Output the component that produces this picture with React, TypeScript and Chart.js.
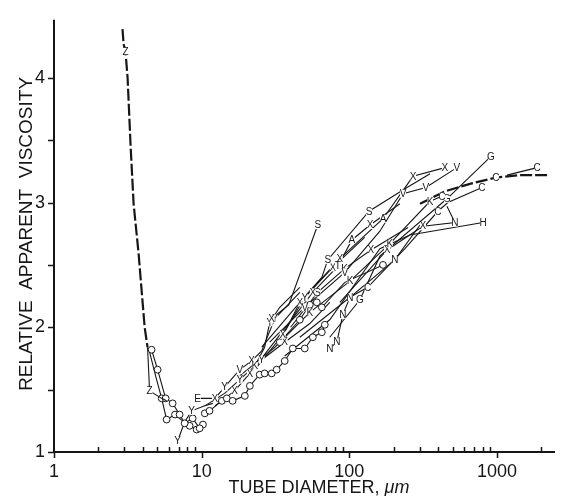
import React, { useEffect, useRef } from "react";
import { Chart, registerables } from "chart.js";
Chart.register(...registerables);

// ---- axes ----
const xTickValues = [1, 10, 100, 1000];
const xTickLabels = ["1", "10", "100", "1000"];
const yTickValues = [1, 2, 3, 4];
const yTickLabels = ["1", "2", "3", "4"];
const yTickMarks = [1, 1.5, 2, 2.5, 3, 3.5, 4];
const xMinorMarks = [2, 3, 4, 5, 6, 7, 8, 9, 20, 30, 40, 50, 60, 70, 80, 90, 200, 300, 400, 500, 600, 700, 800, 900, 2000];
const xTitleMain = "TUBE DIAMETER, ";
const xTitleUnit = "μm";
const yTitle = "RELATIVE  APPARENT  VISCOSITY";

// ---- series (x = tube diameter µm, y = relative apparent viscosity, m = marker per point) ----
const zUpperX = [2.91, 2.96, 3.05, 3.15, 3.30, 3.46, 3.74, 4.11, 4.30];
const zUpperY = [4.39, 4.27, 4.21, 4.00, 3.46, 2.99, 2.59, 2.00, 1.84];
const zUpperM = "..Z......";

const zLowerX = [4.30, 4.44, 5.36, 5.79];
const zLowerY = [1.84, 1.49, 1.43, 1.41];
const zLowerM = ".Z..";

const circAX = [4.58, 5.03, 5.70, 6.36, 7.09, 7.67, 8.69, 9.69];
const circAY = [1.82, 1.66, 1.43, 1.39, 1.30, 1.23, 1.27, 1.19];
const circAM = "oooooooo";

const circBX = [4.44, 4.90, 5.36, 5.79, 6.60, 7.43, 8.29, 9.25, 10.2];
const circBY = [1.80, 1.60, 1.43, 1.26, 1.30, 1.25, 1.21, 1.18, 1.22];
const circBM = "..ooo.ooo";

const yLowX = [6.88, 7.67, 8.55, 10.5, 11.9];
const yLowY = [1.09, 1.24, 1.33, 1.37, 1.39];
const yLowM = "Y.Y..";

const eLineX = [9.40, 12.3, 14.3, 18.1, 21.8, 25.5, 31.3, 46.2];
const eLineY = [1.43, 1.43, 1.52, 1.66, 1.73, 1.81, 2.07, 2.28];
const eLineM = "EXYVX.Y.";

const circLowX = [10.5, 11.3, 13.7, 14.8, 16.2, 19.6, 21.2, 24.7, 26.7, 29.8, 32.2, 36.5, 41.4, 49.9, 56.6, 65.1, 68.2];
const circLowY = [1.31, 1.33, 1.41, 1.43, 1.41, 1.45, 1.53, 1.62, 1.63, 1.63, 1.66, 1.73, 1.83, 1.83, 1.92, 1.96, 2.02];
const circLowM = "ooooooooooooooooo";

const circUpX = [33.8, 46.2, 54.0, 60.2, 65.1, 93.2, 169];
const circUpY = [1.88, 2.06, 2.18, 2.20, 2.16, 2.36, 2.50];
const circUpM = "ooooo.o";

const yTwoX = [10.5, 14.3, 18.1, 22.9, 26.7, 28.9, 33.8, 46.2];
const yTwoY = [1.37, 1.47, 1.58, 1.69, 1.84, 2.04, 2.16, 2.32];
const yTwoM = "..YK.Y..";

const xThreeX = [12.3, 16.7, 21.2, 25.5, 36.5, 54.0, 73.7];
const xThreeY = [1.37, 1.49, 1.63, 1.74, 1.88, 2.03, 2.20];
const xThreeM = ".XXYX..";

const rLineX = [22.9, 35.4, 49.9, 77.2, 127];
const rLineY = [1.66, 1.94, 2.24, 2.48, 2.72];
const rLineM = ".XYX.";

const kTwoX = [40.0, 61.0, 93.0, 140, 250];
const kTwoY = [2.00, 2.28, 2.47, 2.62, 2.80];
const kTwoM = ".SKX.";

const sOneX = [29.8, 38.9, 61.1];
const sOneY = [2.07, 2.18, 2.82];
const sOneM = "X.S";

const sTwoX = [36.5, 46.2, 65.1, 71.4, 136, 238, 352];
const sTwoY = [1.96, 2.20, 2.40, 2.54, 2.93, 3.11, 3.23];
const sTwoM = "...SS..";

const xTopX = [25.5, 46.2, 86.2, 169, 270, 444];
const xTopY = [1.84, 2.20, 2.55, 2.87, 3.21, 3.28];
const xTopM = ".XXAXX";

const vLineX = [28.9, 49.9, 93.2, 161, 231, 330, 535];
const vLineY = [1.88, 2.16, 2.44, 2.77, 3.07, 3.12, 3.28];
const vLineM = ".VV.VVV";

const gLineX = [73.7, 118, 161, 458, 910];
const gLineY = [1.92, 2.22, 2.57, 3.03, 3.37];
const gLineM = ".G.GG";

const cLineX = [46.2, 101, 133, 238, 398, 465, 791];
const cLineY = [1.92, 2.24, 2.32, 2.63, 2.93, 3.00, 3.12];
const cLineM = ".NC.C.C";

const hLineX = [36.5, 73.7, 161, 257, 804];
const hLineY = [1.77, 2.06, 2.63, 2.74, 2.84];
const hLineM = "....H";

const xTwoX = [86.2, 180, 315, 519, 458];
const xTwoY = [2.20, 2.62, 2.81, 2.84, 2.97];
const xTwoM = ".XXN.";

const nLineX = [73.7, 82.3, 90.3, 101, 203, 301];
const nLineY = [1.83, 1.88, 2.10, 2.24, 2.54, 2.82];
const nLineM = "NNN.N.";

const kLineX = [18.1, 31.3, 54.0, 101, 188, 352, 424];
const kLineY = [1.61, 1.84, 2.12, 2.37, 2.67, 3.01, 3.05];
const kLineM = "..KKKKC";

const tLineX = [24.7, 56.6, 83.6, 104, 138, 220];
const tLineY = [1.73, 2.28, 2.49, 2.70, 2.82, 2.99];
const tLineM = ".XTAX.";

const zRightX = [301, 444, 656, 984, 1432, 2288];
const zRightY = [2.99, 3.09, 3.15, 3.20, 3.22, 3.22];
const zRightM = "...C..";

const cTopX = [1169, 1867];
const cTopY = [3.22, 3.28];
const cTopM = ".C";

const seriesList = [
  { name: "Z upper", x: zUpperX, y: zUpperY, m: zUpperM, dashed: true },
  { name: "Z lower", x: zLowerX, y: zLowerY, m: zLowerM },
  { name: "O a", x: circAX, y: circAY, m: circAM },
  { name: "O b", x: circBX, y: circBY, m: circBM },
  { name: "Y low", x: yLowX, y: yLowY, m: yLowM },
  { name: "E", x: eLineX, y: eLineY, m: eLineM },
  { name: "O low", x: circLowX, y: circLowY, m: circLowM },
  { name: "O up", x: circUpX, y: circUpY, m: circUpM },
  { name: "Y two", x: yTwoX, y: yTwoY, m: yTwoM },
  { name: "X three", x: xThreeX, y: xThreeY, m: xThreeM },
  { name: "R", x: rLineX, y: rLineY, m: rLineM },
  { name: "K two", x: kTwoX, y: kTwoY, m: kTwoM },
  { name: "S one", x: sOneX, y: sOneY, m: sOneM },
  { name: "S two", x: sTwoX, y: sTwoY, m: sTwoM },
  { name: "X top", x: xTopX, y: xTopY, m: xTopM },
  { name: "V", x: vLineX, y: vLineY, m: vLineM },
  { name: "G", x: gLineX, y: gLineY, m: gLineM },
  { name: "C", x: cLineX, y: cLineY, m: cLineM },
  { name: "H", x: hLineX, y: hLineY, m: hLineM },
  { name: "X two", x: xTwoX, y: xTwoY, m: xTwoM },
  { name: "N", x: nLineX, y: nLineY, m: nLineM },
  { name: "K", x: kLineX, y: kLineY, m: kLineM },
  { name: "T", x: tLineX, y: tLineY, m: tLineM },
  { name: "Z right", x: zRightX, y: zRightY, m: zRightM, dashed: true },
  { name: "C top", x: cTopX, y: cTopY, m: cTopM },
];

const INK = "#161616";
const FONT = '"Liberation Sans", Arial, Helvetica, sans-serif';

const letterPlugin = {
  id: "letters",
  afterDatasetsDraw(chart: any) {
    const ctx = chart.ctx;
    ctx.save();
    ctx.font = `10px ${FONT}`;
    ctx.textAlign = "center";
    ctx.textBaseline = "middle";
    seriesList.forEach((s, di) => {
      const meta = chart.getDatasetMeta(di);
      meta.data.forEach((pt: any, i: number) => {
        const c = s.m[i];
        if (!c || c === "." || c === "o") return;
        ctx.fillStyle = "#fff";
        ctx.fillRect(pt.x - 3, pt.y - 4, 6, 8);
        ctx.fillStyle = INK;
        ctx.fillText(c, pt.x, pt.y + 0.5);
      });
    });
    ctx.restore();
  },
};

const axisPlugin = {
  id: "axisDecor",
  afterDraw(chart: any) {
    const { ctx, chartArea } = chart;
    const xs = chart.scales.x;
    const ys = chart.scales.y;
    const L = chartArea.left, R = chartArea.right, T = chartArea.top, B = chartArea.bottom;
    ctx.save();
    ctx.strokeStyle = INK;
    ctx.lineWidth = 2;
    ctx.beginPath();
    ctx.moveTo(L, T);
    ctx.lineTo(L, B);
    ctx.lineTo(R, B);
    ctx.stroke();
    ctx.lineWidth = 1.5;
    ctx.beginPath();
    yTickMarks.forEach((v) => {
      const p = Math.round(ys.getPixelForValue(v)) + 0.5;
      ctx.moveTo(L - 6, p);
      ctx.lineTo(L, p);
    });
    xMinorMarks.forEach((v) => {
      const p = Math.round(xs.getPixelForValue(v)) + 0.5;
      ctx.moveTo(p, B);
      ctx.lineTo(p, B - 5);
    });
    xTickValues.forEach((v) => {
      const p = Math.round(xs.getPixelForValue(v)) + 0.5;
      ctx.moveTo(p, B);
      ctx.lineTo(p, B + 6);
    });
    ctx.stroke();

    // axis titles
    ctx.fillStyle = INK;
    ctx.textBaseline = "alphabetic";
    ctx.font = `18px ${FONT}`;
    const w1 = ctx.measureText(xTitleMain).width;
    ctx.font = `italic 18px ${FONT}`;
    const w2 = ctx.measureText(xTitleUnit).width;
    const startX = 319 - (w1 + w2) / 2;
    ctx.font = `18px ${FONT}`;
    ctx.textAlign = "left";
    ctx.fillText(xTitleMain, startX, 493);
    ctx.font = `italic 18px ${FONT}`;
    ctx.fillText(xTitleUnit, startX + w1, 493);

    ctx.translate(32, (T + B) / 2 - 2);
    ctx.rotate(-Math.PI / 2);
    ctx.textAlign = "center";
    ctx.font = `19px ${FONT}`;
    ctx.fillText(yTitle, 0, 0);
    ctx.restore();
  },
};

export default function App() {
  const ref = useRef<HTMLCanvasElement | null>(null);
  useEffect(() => {
    if (!ref.current) return;
    const datasets = seriesList.map((s) => ({
      label: s.name,
      data: s.x.map((v, i) => ({ x: v, y: s.y[i] })),
      showLine: true,
      borderColor: INK,
      borderWidth: s.dashed ? 2.2 : 1.1,
      borderDash: s.dashed ? [12, 3] : [],
      pointRadius: s.m.split("").map((c) => (c === "o" ? 3.4 : 0)),
      pointHoverRadius: 0,
      pointHitRadius: 0,
      pointBackgroundColor: "#fff",
      pointBorderColor: INK,
      pointBorderWidth: 1,
      tension: 0,
    }));
    const chart = new Chart(ref.current, {
      type: "scatter",
      data: { datasets },
      options: {
        animation: false,
        responsive: false,
        events: [],
        layout: { padding: { top: 13, right: 9, left: 0, bottom: 0 } },
        plugins: { legend: { display: false }, tooltip: { enabled: false } },
        scales: {
          x: {
            type: "logarithmic",
            min: 1,
            max: 2470,
            grid: { display: false, drawTicks: false },
            border: { display: false },
            afterBuildTicks: (scale: any) => {
              scale.ticks = xTickValues.map((v) => ({ value: v }));
            },
            afterFit: (scale: any) => {
              scale.height = 44;
            },
            ticks: {
              autoSkip: false,
              maxRotation: 0,
              padding: 9,
              color: INK,
              font: { family: FONT, size: 18 },
              callback: (_v: any, i: number) => xTickLabels[i],
            },
          },
          y: {
            type: "linear",
            min: 1,
            max: 4.465,
            grid: { display: false, drawTicks: false },
            border: { display: false },
            afterBuildTicks: (scale: any) => {
              scale.ticks = yTickValues.map((v) => ({ value: v }));
            },
            afterFit: (scale: any) => {
              scale.width = 54;
            },
            ticks: {
              autoSkip: false,
              padding: 9,
              color: INK,
              font: { family: FONT, size: 18 },
              callback: (_v: any, i: number) => yTickLabels[i],
            },
          },
        },
      },
      plugins: [letterPlugin, axisPlugin],
    } as any);
    return () => chart.destroy();
  }, []);
  return (
    <div style={{ position: "absolute", left: 0, top: 0, width: 564, height: 496, background: "#fff" }}>
      <canvas ref={ref} width={564} height={496} style={{ display: "block" }} />
    </div>
  );
}
